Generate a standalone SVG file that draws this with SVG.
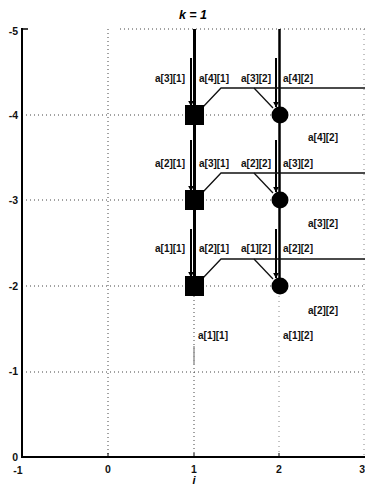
<svg xmlns="http://www.w3.org/2000/svg" width="365" height="487" viewBox="0 0 365 487">
<style>
.lbl{font-family:"Liberation Sans",Arial,sans-serif;font-weight:bold;font-size:10px;fill:#111}
.tick{font-family:"Liberation Sans",Arial,sans-serif;font-weight:bold;font-size:10.5px;fill:#111}
.grid{stroke:#444;stroke-width:1;stroke-dasharray:1 3;fill:none}
.gridf{stroke:#888;stroke-width:1;stroke-dasharray:1 4;fill:none}
.long{stroke:#000;stroke-width:3;fill:none}
.long2{stroke:#000;stroke-width:2.5;fill:none}
.short{stroke:#000;stroke-width:2;fill:none;marker-end:url(#ah)}
.flow{stroke:#111;stroke-width:1.3;fill:none}
.sq{fill:#000}
.ci{fill:#000}
</style>
<defs>
<marker id="ah" viewBox="0 0 10 10" refX="9" refY="5" markerWidth="3" markerHeight="3" orient="auto">
<path d="M0,0 L10,5 L0,10 z" fill="#000"/>
</marker>
</defs>
<rect x="0" y="0" width="365" height="487" fill="#fff"/>
<g id="grid">
<line class="grid" x1="120" y1="29" x2="365" y2="29"/>
<line class="grid" x1="22" y1="115" x2="365" y2="115"/>
<line class="grid" x1="22" y1="200" x2="365" y2="200"/>
<line class="grid" x1="22" y1="286" x2="365" y2="286"/>
<line class="grid" x1="22" y1="372" x2="365" y2="372"/>
<line class="grid" x1="108" y1="29" x2="108" y2="457"/>
<line class="grid" x1="194" y1="296" x2="194" y2="457"/>
<line class="gridf" x1="279" y1="296" x2="279" y2="457"/>
<line class="gridf" x1="364" y1="29" x2="364" y2="457"/>
</g>
<g id="axes">
<line x1="22" y1="28" x2="22" y2="458" stroke="#000" stroke-width="2"/>
<line x1="21" y1="457" x2="365" y2="457" stroke="#000" stroke-width="2"/>
<line x1="22" y1="29" x2="28" y2="29" stroke="#000" stroke-width="1.5"/>
<line x1="108" y1="457" x2="108" y2="453" stroke="#000" stroke-width="1"/>
<line x1="194" y1="457" x2="194" y2="453" stroke="#000" stroke-width="1"/>
<line x1="279" y1="457" x2="279" y2="453" stroke="#000" stroke-width="1"/>
<text class="tick" x="18" y="35" text-anchor="end">-5</text>
<text class="tick" x="18" y="119" text-anchor="end">-4</text>
<text class="tick" x="18" y="204" text-anchor="end">-3</text>
<text class="tick" x="18" y="290" text-anchor="end">-2</text>
<text class="tick" x="18" y="375" text-anchor="end">-1</text>
<text class="tick" x="18" y="461" text-anchor="end">0</text>
<text class="tick" x="18" y="474" text-anchor="middle">-1</text>
<text class="tick" x="108" y="473" text-anchor="middle">0</text>
<text class="tick" x="194" y="473" text-anchor="middle">1</text>
<text class="tick" x="279" y="473" text-anchor="middle">2</text>
<text class="tick" x="365" y="473" text-anchor="end">3</text>
<text x="194" y="484" text-anchor="middle" font-family="Liberation Sans, Arial, sans-serif" font-style="italic" font-weight="bold" font-size="11">i</text>
<text x="193" y="19" text-anchor="middle" font-family="Liberation Sans, Arial, sans-serif" font-style="italic" font-weight="bold" font-size="12.5">k =  1</text>
</g>
<g id="connectors">
<line class="long" x1="194.5" y1="29" x2="194.5" y2="286"/>
<line class="long2" x1="279.5" y1="29" x2="279.5" y2="286"/>
<line class="short" x1="191" y1="58" x2="191" y2="106"/>
<line class="short" x1="191" y1="140" x2="191" y2="191"/>
<line class="short" x1="191" y1="229" x2="191" y2="277"/>
<line class="short" x1="276" y1="58" x2="276" y2="107"/>
<line class="short" x1="276" y1="140" x2="276" y2="192"/>
<line class="short" x1="276" y1="229" x2="276" y2="278"/>
<polyline class="flow" points="203,107 221,88 365,88"/>
<line class="flow" x1="254" y1="88" x2="273" y2="108"/>
<polyline class="flow" points="203,192 221,173 365,173"/>
<line class="flow" x1="254" y1="173" x2="273" y2="193"/>
<polyline class="flow" points="203,278 221,259 365,259"/>
<line class="flow" x1="254" y1="259" x2="273" y2="279"/>
<line x1="194" y1="346" x2="194" y2="364" stroke="#999" stroke-width="1.5"/>
</g>
<g id="n41"><rect class="sq" x="185" y="105" width="19" height="20"/></g>
<g id="n31"><rect class="sq" x="185" y="190" width="19" height="20"/></g>
<g id="n21"><rect class="sq" x="185" y="276" width="19" height="20"/></g>
<g id="n42"><circle class="ci" cx="280" cy="115" r="8.5"/></g>
<g id="n32"><circle class="ci" cx="280" cy="200" r="8.5"/></g>
<g id="n22"><circle class="ci" cx="280" cy="286" r="8.5"/></g>
<g id="labels">
<text class="lbl" x="155" y="82">a[3][1]</text>
<text class="lbl" x="199" y="82">a[4][1]</text>
<text class="lbl" x="241" y="82">a[3][2]</text>
<text class="lbl" x="283" y="82">a[4][2]</text>
<text class="lbl" x="155" y="167">a[2][1]</text>
<text class="lbl" x="199" y="167">a[3][1]</text>
<text class="lbl" x="241" y="167">a[2][2]</text>
<text class="lbl" x="283" y="167">a[3][2]</text>
<text class="lbl" x="155" y="252">a[1][1]</text>
<text class="lbl" x="199" y="252">a[2][1]</text>
<text class="lbl" x="241" y="252">a[1][2]</text>
<text class="lbl" x="283" y="252">a[2][2]</text>
<text class="lbl" x="308" y="141">a[4][2]</text>
<text class="lbl" x="308" y="227">a[3][2]</text>
<text class="lbl" x="308" y="314">a[2][2]</text>
<text class="lbl" x="198" y="339">a[1][1]</text>
<text class="lbl" x="283" y="339">a[1][2]</text>
</g>
</svg>
